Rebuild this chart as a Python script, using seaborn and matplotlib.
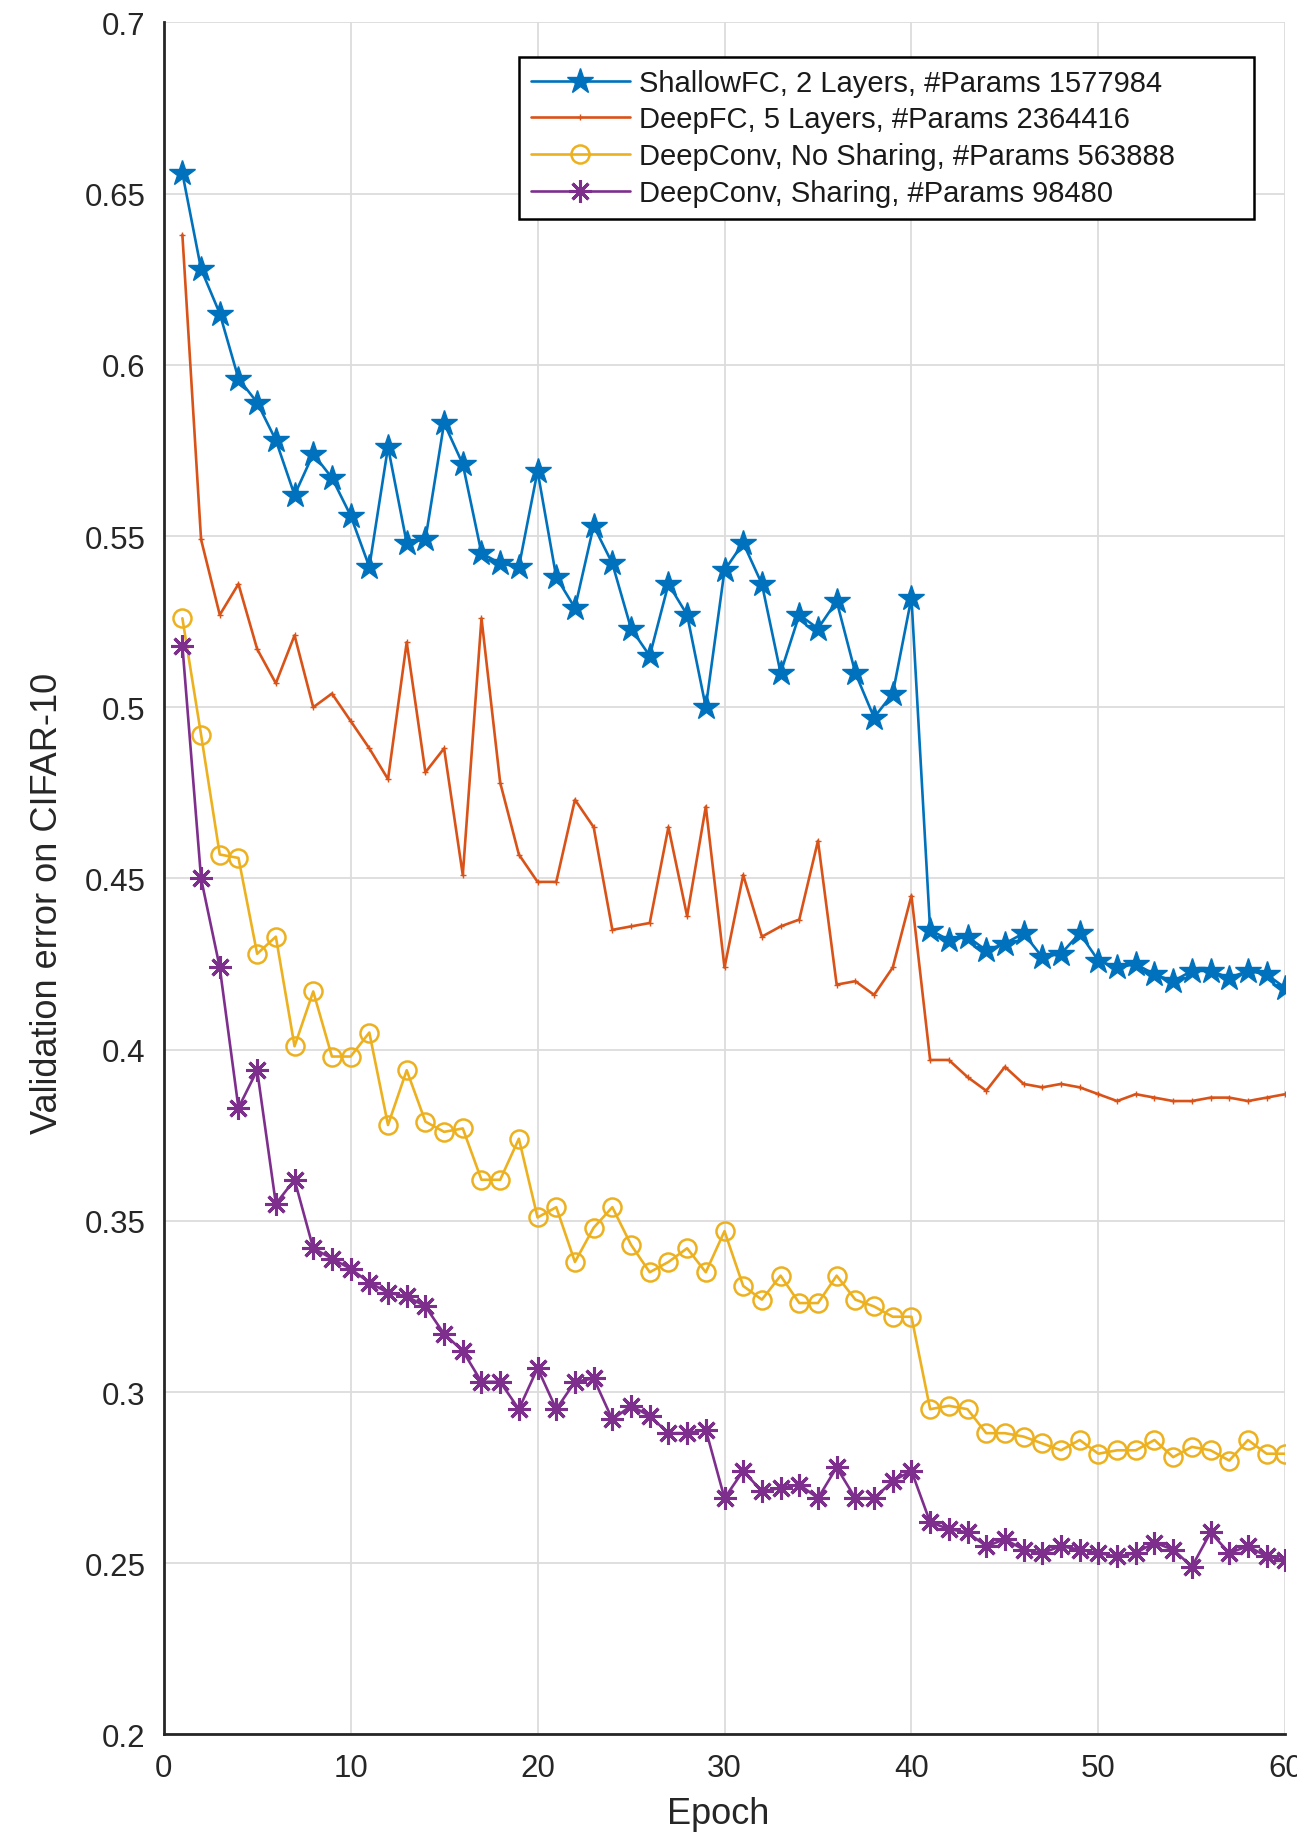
import matplotlib
matplotlib.use("Agg")
import matplotlib.pyplot as plt
import seaborn as sns
import numpy as np

# Validation error per epoch for four architectures on CIFAR-10
epochs = list(range(1, 61))

shallow_fc = [0.656, 0.628, 0.615, 0.596, 0.589, 0.578, 0.562, 0.574, 0.567, 0.556,
              0.541, 0.576, 0.548, 0.549, 0.583, 0.571, 0.545, 0.542, 0.541, 0.569,
              0.538, 0.529, 0.553, 0.542, 0.523, 0.515, 0.536, 0.527, 0.500, 0.540,
              0.548, 0.536, 0.510, 0.527, 0.523, 0.531, 0.510, 0.497, 0.504, 0.532,
              0.435, 0.432, 0.433, 0.429, 0.431, 0.434, 0.427, 0.428, 0.434, 0.426,
              0.424, 0.425, 0.422, 0.420, 0.423, 0.423, 0.421, 0.423, 0.422, 0.418]

deep_fc = [0.638, 0.549, 0.527, 0.536, 0.517, 0.507, 0.521, 0.500, 0.504, 0.496,
           0.488, 0.479, 0.519, 0.481, 0.488, 0.451, 0.526, 0.478, 0.457, 0.449,
           0.449, 0.473, 0.465, 0.435, 0.436, 0.437, 0.465, 0.439, 0.471, 0.424,
           0.451, 0.433, 0.436, 0.438, 0.461, 0.419, 0.420, 0.416, 0.424, 0.445,
           0.397, 0.397, 0.392, 0.388, 0.395, 0.390, 0.389, 0.390, 0.389, 0.387,
           0.385, 0.387, 0.386, 0.385, 0.385, 0.386, 0.386, 0.385, 0.386, 0.387]

deep_conv_no_sharing = [0.526, 0.492, 0.457, 0.456, 0.428, 0.433, 0.401, 0.417, 0.398, 0.398,
                        0.405, 0.378, 0.394, 0.379, 0.376, 0.377, 0.362, 0.362, 0.374, 0.351,
                        0.354, 0.338, 0.348, 0.354, 0.343, 0.335, 0.338, 0.342, 0.335, 0.347,
                        0.331, 0.327, 0.334, 0.326, 0.326, 0.334, 0.327, 0.325, 0.322, 0.322,
                        0.295, 0.296, 0.295, 0.288, 0.288, 0.287, 0.285, 0.283, 0.286, 0.282,
                        0.283, 0.283, 0.286, 0.281, 0.284, 0.283, 0.280, 0.286, 0.282, 0.282]

deep_conv_sharing = [0.518, 0.450, 0.424, 0.383, 0.394, 0.355, 0.362, 0.342, 0.339, 0.336,
                     0.332, 0.329, 0.328, 0.325, 0.317, 0.312, 0.303, 0.303, 0.295, 0.307,
                     0.295, 0.303, 0.304, 0.292, 0.296, 0.293, 0.288, 0.288, 0.289, 0.269,
                     0.277, 0.271, 0.272, 0.273, 0.269, 0.278, 0.269, 0.269, 0.274, 0.277,
                     0.262, 0.260, 0.259, 0.255, 0.257, 0.254, 0.253, 0.255, 0.254, 0.253,
                     0.252, 0.253, 0.256, 0.254, 0.249, 0.259, 0.253, 0.255, 0.252, 0.251]

series_labels = ["ShallowFC, 2 Layers, #Params 1577984",
                 "DeepFC, 5 Layers, #Params 2364416",
                 "DeepConv, No Sharing, #Params 563888",
                 "DeepConv, Sharing, #Params 98480"]

x_ticks = [0, 10, 20, 30, 40, 50, 60]
y_ticks = [0.2, 0.25, 0.3, 0.35, 0.4, 0.45, 0.5, 0.55, 0.6, 0.65, 0.7]
y_tick_labels = ["0.2", "0.25", "0.3", "0.35", "0.4", "0.45", "0.5", "0.55", "0.6", "0.65", "0.7"]

sns.set_theme(style="white")
plt.rcParams["font.family"] = ["Liberation Sans", "DejaVu Sans"]

fig = plt.figure(figsize=(12.97, 18.33), dpi=100)
ax = fig.add_axes([0.1262, 0.0532, 0.8648, 0.9340])

lw = 1.9
sns.lineplot(x=epochs, y=shallow_fc, ax=ax, color="#0072BD", linewidth=lw,
             marker="*", markersize=19, markerfacecolor="#0072BD",
             markeredgecolor="#0072BD", markeredgewidth=1.0,
             label=series_labels[0], zorder=5)
sns.lineplot(x=epochs, y=deep_fc, ax=ax, color="#D95319", linewidth=lw,
             marker="+", markersize=5, markeredgecolor="#D95319",
             markeredgewidth=1.0, label=series_labels[1], zorder=4)
sns.lineplot(x=epochs, y=deep_conv_no_sharing, ax=ax, color="#EDB120", linewidth=lw,
             marker="o", markersize=13, markerfacecolor="none",
             markeredgecolor="#EDB120", markeredgewidth=1.8,
             label=series_labels[2], zorder=3)
sns.lineplot(x=epochs, y=deep_conv_sharing, ax=ax, color="#7E2F8E", linewidth=lw,
             marker=(8, 2, 0), markersize=16, markeredgecolor="#7E2F8E",
             markeredgewidth=2.2, label=series_labels[3], zorder=3)

ax.set_xlim(0, 60)
ax.set_ylim(0.2, 0.7)
ax.set_xticks(x_ticks)
ax.set_xticklabels([str(t) for t in x_ticks])
ax.set_yticks(y_ticks)
ax.set_yticklabels(y_tick_labels)

ax.grid(True, color="#dcdcdc", linewidth=1.3)
ax.set_axisbelow(True)
for side in ["top", "right"]:
    ax.spines[side].set_visible(False)
for side in ["left", "bottom"]:
    ax.spines[side].set_color("#262626")
    ax.spines[side].set_linewidth(2.0)

ax.tick_params(axis="both", direction="in", length=13, width=1.6,
               color="#262626", labelsize=22.5, labelcolor="#262626")
ax.tick_params(axis="y", pad=13)
ax.tick_params(axis="x", pad=13)

ax.set_xlabel("Epoch", fontsize=26, color="#262626", va="top")
ax.xaxis.set_label_coords(0.494, -0.036)
ax.set_ylabel("Validation error on CIFAR-10", fontsize=26, color="#262626")
ax.yaxis.set_label_coords(-0.088, 0.486)

leg = ax.legend(loc="upper left", bbox_to_anchor=(0.3168, 0.9798 - 0.0946, 0.6552, 0.0946),
                mode="expand", fontsize=21, frameon=True, fancybox=False,
                framealpha=1.0, edgecolor="black", handlelength=3.4,
                handletextpad=0.3, labelspacing=0.3, borderpad=0.4,
                borderaxespad=0.0)
leg.get_frame().set_linewidth(1.8)
for t in leg.get_texts():
    t.set_color("#1a1a1a")

fig.savefig("out.png", dpi=100, facecolor="white")
